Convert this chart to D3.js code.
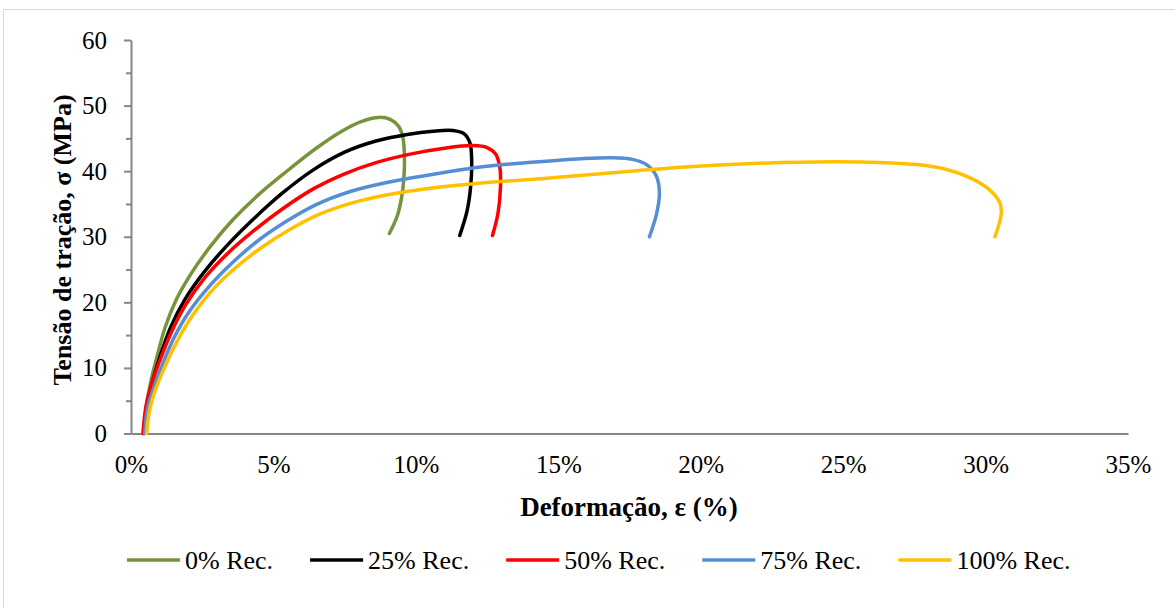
<!DOCTYPE html>
<html lang="pt">
<head>
<meta charset="UTF-8"/>
<title>Tensão x Deformação</title>
<script src="https://d3js.org/d3.v7.min.js"></script>
<style>
	body { margin: 0; background: #fff; }
	svg text { font-family: "Liberation Serif", "Times New Roman", serif; fill: #000; }
</style>
</head>
<body>
<div id="chart"></div>
<script>
	var w = 1175;
	var h = 608;

	// series names and colours
	var seriesNames = ["0% Rec.", "25% Rec.", "50% Rec.", "75% Rec.", "100% Rec."];
	var seriesColors = ["#77933C", "#000000", "#FF0000", "#558ED5", "#FFC000"];

	// strain (%) / stress (MPa)
	var strain0 = [0.45, 0.55, 0.7, 0.9, 1.2, 1.6, 2.1, 2.8, 3.6, 4.5, 5.5, 6.5, 7.4, 8.1, 8.7, 9.1, 9.4, 9.55, 9.6, 9.58, 9.5, 9.35, 9.07];
	var stress0 = [0, 4.5, 8, 11.5, 16.2, 20.5, 24.3, 28.6, 32.7, 36.5, 40.1, 43.5, 46.1, 47.6, 48.2, 47.9, 46.8, 45.0, 42.0, 39.0, 36.0, 33.2, 30.5];

	var strain25 = [0.45, 0.55, 0.73, 1.0, 1.4, 1.9, 2.6, 3.4, 4.3, 5.3, 6.4, 7.5, 8.6, 9.7, 10.6, 11.3, 11.7, 11.9, 11.96, 11.92, 11.8, 11.54];
	var stress25 = [0, 4, 7.5, 11.5, 16.3, 20.5, 24.8, 28.8, 32.7, 36.6, 40.2, 42.9, 44.6, 45.6, 46.1, 46.2, 45.7, 44.3, 41.5, 37.5, 34.0, 30.2];

	var strain50 = [0.42, 0.52, 0.72, 1.0, 1.4, 1.9, 2.6, 3.4, 4.3, 5.3, 6.4, 7.5, 8.6, 9.8, 11.0, 12.0, 12.5, 12.8, 12.95, 12.97, 12.88, 12.69];
	var stress50 = [0, 4, 7.5, 11, 15.3, 19.5, 23.8, 27.5, 30.9, 34.2, 37.3, 39.6, 41.3, 42.6, 43.5, 43.9, 43.6, 42.6, 40.5, 37.5, 33.5, 30.2];

	var strain75 = [0.48, 0.58, 0.8, 1.1, 1.5, 2.0, 2.7, 3.5, 4.4, 5.4, 6.5, 7.7, 8.9, 10.3, 12.2, 14.2, 15.8, 16.9, 17.6, 18.1, 18.45, 18.55, 18.45, 18.2];
	var stress75 = [0, 3.8, 7, 10.5, 14.5, 18.3, 22.2, 25.8, 29.2, 32.2, 34.9, 36.9, 38.2, 39.3, 40.6, 41.4, 41.9, 42.05, 41.8, 41.0, 39.2, 36.5, 33.5, 30.0];

	var strain100 = [0.55, 0.65, 0.87, 1.2, 1.6, 2.1, 2.8, 3.6, 4.5, 5.5, 6.6, 7.8, 9.0, 10.5, 12.3, 14.5, 16.5, 19.3, 22.0, 24.6, 26.5, 27.6, 28.6, 29.4, 30.1, 30.5, 30.55, 30.33];
	var stress100 = [0, 3.5, 6.8, 10.3, 13.9, 17.6, 21.6, 25.0, 28.1, 30.9, 33.4, 35.2, 36.4, 37.4, 38.2, 38.9, 39.6, 40.6, 41.2, 41.45, 41.3, 41.0, 40.3, 39.1, 37.3, 35.2, 33.5, 30.0];

	var xTicks = [0, 5, 10, 15, 20, 25, 30, 35];
	var yTicks = [0, 10, 20, 30, 40, 50, 60];

	var strains = [strain0, strain25, strain50, strain75, strain100];
	var stresses = [stress0, stress25, stress50, stress75, stress100];

	var series = seriesNames.map(function (name, i) {
		return {
			name: name,
			color: seriesColors[i],
			points: strains[i].map(function (s, j) { return [s, stresses[i][j]]; })
		};
	});

	var xScale = d3.scaleLinear().domain([0, 35]).range([131, 1128]);
	var yScale = d3.scaleLinear().domain([0, 60]).range([433.5, 40]);

	var svg = d3.select("#chart")
		.append("svg")
		.attr("width", w)
		.attr("height", h);

	// outer frame
	svg.append("rect")
		.attr("x", 3.5)
		.attr("y", 9.5)
		.attr("width", 1200)
		.attr("height", 700)
		.attr("fill", "none")
		.attr("stroke", "#d9d9d9");

	// minor y ticks
	svg.append("g")
		.attr("transform", "translate(" + xScale(0) + ",0)")
		.call(d3.axisLeft(yScale).tickValues(d3.range(5, 60, 10)).tickSize(5).tickFormat(""))
		.call(function (g) { g.select(".domain").remove(); });

	// y axis
	var yAxis = svg.append("g")
		.attr("transform", "translate(" + xScale(0) + ",0)")
		.call(d3.axisLeft(yScale).tickValues(yTicks).tickSizeInner(7).tickSizeOuter(0).tickPadding(17));
	yAxis.selectAll("text").attr("font-size", "25px").style("font-family", "'Liberation Serif', serif");

	// x axis
	var xAxis = svg.append("g")
		.attr("transform", "translate(0," + yScale(0) + ")")
		.call(d3.axisBottom(xScale).tickValues(xTicks).tickSize(0).tickPadding(22)
			.tickFormat(function (d) { return d + "%"; }));
	xAxis.selectAll("text").attr("font-size", "25px").style("font-family", "'Liberation Serif', serif");

	svg.selectAll(".domain, .tick line")
		.attr("stroke", "#868686")
		.attr("stroke-width", 2);

	// curves
	var line = d3.line()
		.x(function (d) { return xScale(d[0]); })
		.y(function (d) { return yScale(d[1]); })
		.curve(d3.curveCatmullRom.alpha(0.5));

	svg.selectAll(".curve")
		.data(series)
		.enter()
		.append("path")
		.attr("class", "curve")
		.attr("d", function (d) { return line(d.points); })
		.attr("fill", "none")
		.attr("stroke", function (d) { return d.color; })
		.attr("stroke-width", 3.5)
		.attr("stroke-linecap", "round");

	// axis titles
	svg.append("text")
		.attr("x", 629)
		.attr("y", 516)
		.attr("text-anchor", "middle")
		.attr("font-size", "27px")
		.attr("font-weight", "bold")
		.text("Deformação, ε (%)");

	svg.append("text")
		.attr("transform", "translate(71,240) rotate(-90)")
		.attr("text-anchor", "middle")
		.attr("font-size", "26px")
		.attr("font-weight", "bold")
		.text("Tensão de tração, σ (MPa)");

	// legend
	var legend = svg.append("g");
	var lx = 127;
	series.forEach(function (s) {
		legend.append("line")
			.attr("x1", lx).attr("x2", lx + 53)
			.attr("y1", 560).attr("y2", 560)
			.attr("stroke", s.color)
			.attr("stroke-width", 3.5);
		var t = legend.append("text")
			.attr("x", lx + 58)
			.attr("y", 569)
			.attr("font-size", "26px")
			.text(s.name);
		lx += 58 + t.node().getComputedTextLength() + 37;
	});
</script>
</body>
</html>
